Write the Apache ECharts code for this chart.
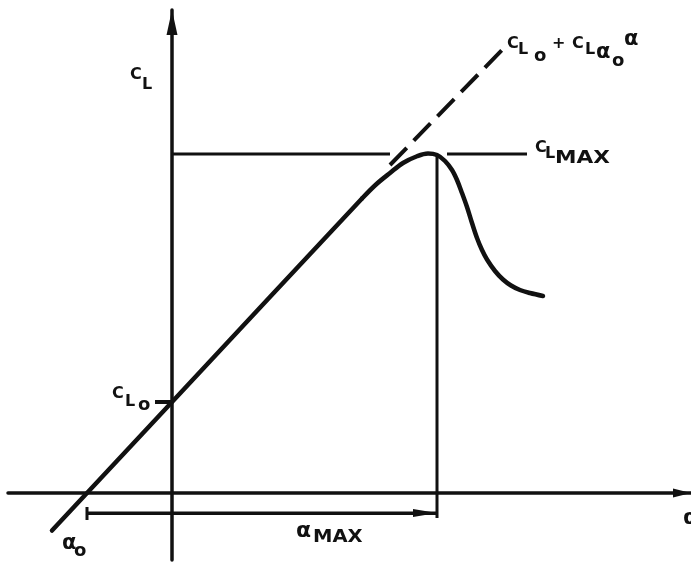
<!DOCTYPE html>
<html>
<head>
<meta charset="utf-8">
<script src="https://cdn.jsdelivr.net/npm/echarts@6/dist/echarts.min.js"></script>
<style>
  html, body { margin: 0; padding: 0; background: #fff; }
  #chart { width: 691px; height: 563px; }
</style>
</head>
<body>
<div id="chart"></div>
<script>
// Lift curve of an airfoil: lift coefficient C_L against angle of attack α (deg)
const ALPHA_0 = -4.25;    // zero-lift angle
const ALPHA_MAX = 13.25;  // stall angle
const CL_0 = 0.364;       // lift at α = 0
const CL_MAX = 1.356;     // maximum lift

// [α, C_L] points along the straight part of the curve
const liftLinear = [[-6.0, -0.150], [-4.25, 0], [0, 0.364], [5, 0.793], [9.5, 1.178]];
// [α, C_L] points through the stall
const liftStall = [
  [9.5, 1.178], [10.2, 1.234], [10.9, 1.280], [11.55, 1.320], [12.25, 1.347],
  [12.8, 1.358], [13.25, 1.352], [13.65, 1.328], [14.0, 1.292], [14.25, 1.252],
  [14.5, 1.200], [14.75, 1.144], [15.0, 1.080], [15.25, 1.020], [15.5, 0.972],
  [15.75, 0.934], [16.15, 0.888], [16.55, 0.854], [16.95, 0.830], [17.4, 0.812],
  [17.9, 0.800], [18.55, 0.788]
];
// linear lift law C_L0 + C_Lα0·α carried past the stall
const slopeExtension = [[10.9, 1.312], [16.5, 1.772]];
// C_L,max reference line (broken where it meets the curve)
const clMaxLeft = [[0, CL_MAX], [10.9, CL_MAX]];
const clMaxRight = [[13.75, CL_MAX], [17.75, CL_MAX]];
// drop line at the stall angle
const alphaMaxDrop = [[ALPHA_MAX, CL_MAX], [ALPHA_MAX, -0.1]];
// tick on the C_L axis at C_L0
const cl0Tick = [[-0.85, CL_0], [0, CL_0]];
// dimension arrow from α0 to α_MAX
const spanLevel = -0.08;
const spanTick = [[ALPHA_0, -0.056], [ALPHA_0, -0.108]];
const spanArrow = [[ALPHA_0, spanLevel], [ALPHA_MAX, spanLevel]];

// annotation anchors [α, C_L] and their text pieces
const labelAnchors = [
  [-2.1, 1.672],   // C_L
  [-3.0, 0.396],   // C_L0
  [16.75, 1.798],  // C_L0 + C_Lα0 α
  [18.15, 1.382],  // C_LMAX
  [6.25, -0.156],  // α_MAX
  [-5.5, -0.204],  // α0
  [25.55, -0.10]   // α
];
const labelPieces = [
  ['C', 'L'],
  ['C', 'L', 'o'],
  ['C', 'L', 'o', '+', 'C', 'L', 'α', 'o', 'α'],
  ['C', 'L', 'MAX'],
  ['α', 'MAX'],
  ['α', 'o'],
  ['α']
];
// layout of each piece: [dx, dy, font size, horizontal stretch]
const pieceLayout = [
  [[0, 0, 16], [12, 10, 16]],
  [[0, 0, 16], [13, 8, 16], [26, 11, 18]],
  [[0, 0, 16], [11, 6.5, 16], [27, 12.5, 18], [45, 0, 16], [65, 0, 16], [78, 6.5, 16],
   [89, 9, 21], [105, 18, 18], [117, -4, 21]],
  [[0, 0, 16], [10, 6.5, 16], [20, 11, 18, 1.2]],
  [[-1, -1, 22], [16, 6, 17, 1.15]],
  [[0, 0, 21], [12, 7, 18]],
  [[0, 0, 22]]
];

const INK = '#111';
const FONT = '"DejaVu Sans"';

function stroke(data, width, extra) {
  return Object.assign({
    type: 'line',
    data: data,
    symbol: 'none',
    silent: true,
    animation: false,
    lineStyle: { color: INK, width: width, cap: 'butt' }
  }, extra || {});
}

const chart = echarts.init(document.getElementById('chart'), null, { renderer: 'canvas' });

chart.setOption({
  backgroundColor: '#fff',
  animation: false,
  grid: { left: 8, right: 0, top: 10, bottom: 3 },
  xAxis: {
    type: 'value', min: -8.2, max: 25.95,
    axisLine: {
      onZero: true,
      lineStyle: { color: INK, width: 3.5 },
      symbol: ['none', 'triangle'],
      symbolSize: [9, 18],
      symbolOffset: [0, -9]
    },
    axisTick: { show: false }, axisLabel: { show: false }, splitLine: { show: false }
  },
  yAxis: {
    type: 'value', min: -0.268, max: 1.932,
    axisLine: {
      onZero: true,
      lineStyle: { color: INK, width: 3.5 },
      symbol: ['none', 'triangle'],
      symbolSize: [11, 25],
      symbolOffset: [0, -12.5]
    },
    axisTick: { show: false }, axisLabel: { show: false }, splitLine: { show: false }
  },
  series: [
    stroke(clMaxLeft, 3),
    stroke(clMaxRight, 3),
    stroke(alphaMaxDrop, 3),
    stroke(cl0Tick, 4),
    stroke(spanTick, 3),
    stroke(spanArrow, 3, {
      markLine: {
        silent: true,
        symbol: ['none', 'triangle'],
        symbolSize: [8, 24],
        symbolOffset: [0, [0, '50%']],
        lineStyle: { color: INK, width: 3, type: 'solid' },
        label: { show: false },
        data: [[{ coord: spanArrow[0] }, { coord: spanArrow[1] }]]
      }
    }),
    stroke(slopeExtension, 4, { lineStyle: { color: INK, width: 4, type: [24, 10], cap: 'butt' } }),
    stroke(liftLinear, 4.5, { lineStyle: { color: INK, width: 4.5, cap: 'round' } }),
    stroke(liftStall, 4.5, { smooth: 0.35, lineStyle: { color: INK, width: 4.5, cap: 'round', join: 'round' } }),
    {
      type: 'custom',
      silent: true,
      animation: false,
      clip: false,
      data: labelAnchors.map((p, i) => [p[0], p[1], i]),
      renderItem: function (params, api) {
        const i = api.value(2);
        const pt = api.coord([api.value(0), api.value(1)]);
        return {
          type: 'group',
          x: pt[0],
          y: pt[1],
          children: labelPieces[i].map((text, k) => {
            const lay = pieceLayout[i][k];
            return {
              type: 'text',
              x: lay[0],
              y: lay[1],
              scaleX: lay[3] || 1,
              style: {
                text: text,
                font: 'bold ' + lay[2] + 'px ' + FONT,
                fill: INK,
                align: 'left',
                verticalAlign: 'middle'
              }
            };
          })
        };
      }
    }
  ]
});
</script>
</body>
</html>
